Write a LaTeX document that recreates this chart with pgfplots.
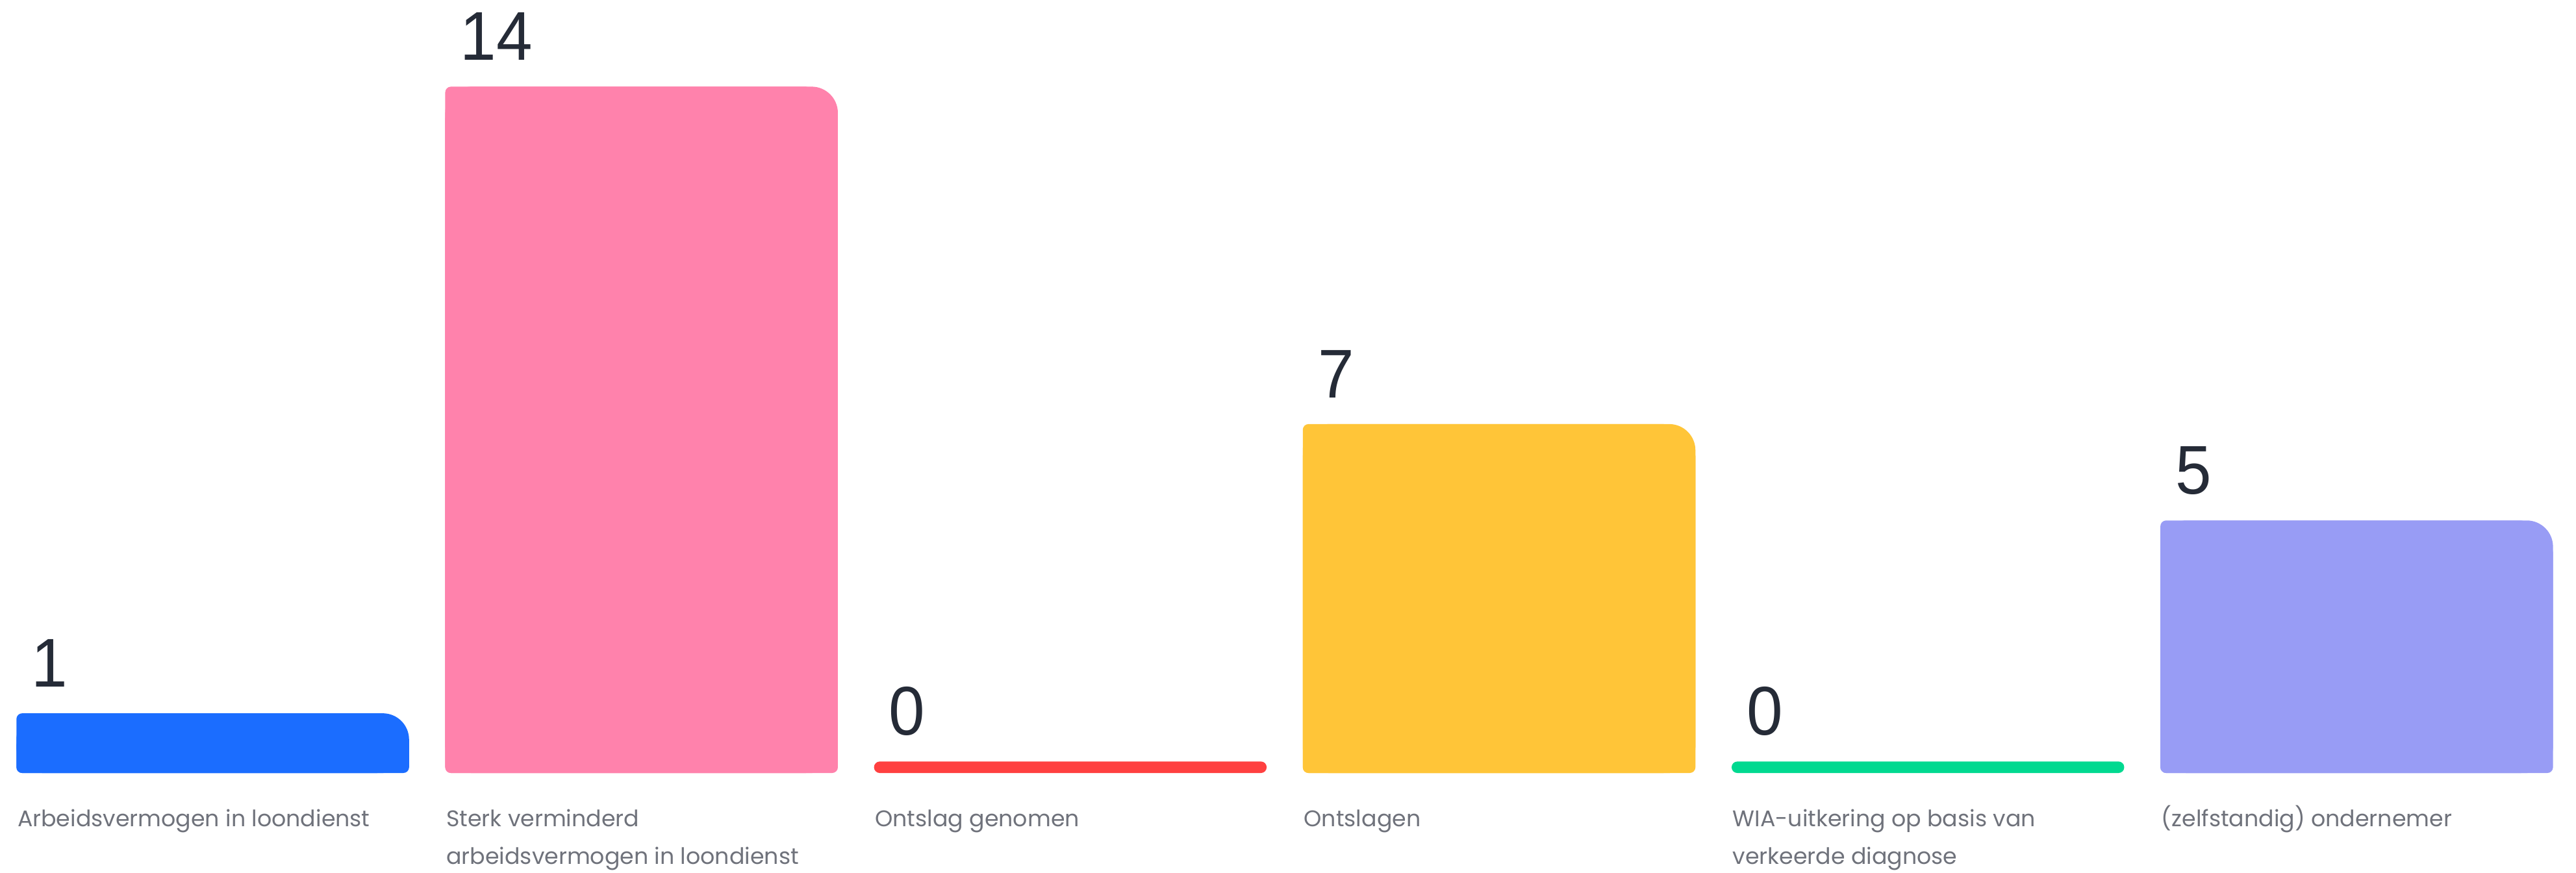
\documentclass[border=0pt]{standalone}
\usepackage{pgfplots}
\pgfplotsset{compat=1.18}
\usepackage{fontspec}
\newfontfamily\numfont[FakeStretch=0.94]{Liberation Sans}
\newfontfamily\labfont{Poppins}
\definecolor{cblue}{HTML}{1B6DFF}
\definecolor{cpink}{HTML}{FF82AC}
\definecolor{cred}{HTML}{FF4040}
\definecolor{cyellow}{HTML}{FFC538}
\definecolor{cgreen}{HTML}{00D990}
\definecolor{cviolet}{HTML}{989CF5}
\definecolor{numcol}{HTML}{252B37}
\definecolor{labcol}{HTML}{6F727B}
\pgfplotsset{
  barbase/.style={ybar, bar width=239pt, bar shift=0pt, draw=none, fill=#1},
  shapeA/.style={barbase=#1, rounded corners=16pt, y filter/.expression={y+0.2386}},
  shapeB/.style={barbase=#1, rounded corners=3.5pt, y filter/.expression={y-0.3067}},
  shapeC/.style={barbase=#1, bar width=223pt, bar shift=-8pt, rounded corners=3.5pt, y filter/.expression={y+0.2386}},
  shapeZ/.style={barbase=#1, rounded corners=3.5pt, y filter/.expression={y+0.2386}},
  numlab/.style={point meta=explicit symbolic, nodes near coords,
    every node near coord/.append style={anchor=base west, inner sep=0pt,
      xshift=-110.5pt, yshift=16pt, font=\numfont\fontsize{42}{48}\selectfont, text=numcol}},
}
\begin{document}
\begin{tikzpicture}
\begin{axis}[
  scale only axis, width=1568pt, height=531pt,
  xmin=-0.49617, xmax=5.51149, ymin=-2.062, ymax=16.036,
  axis line style={draw=none}, ytick=\empty, xtick={0,1,2,3,4,5},
  major tick length=0pt,
  xticklabels={{\strut Arbeidsvermogen in loondienst},
    {\strut Sterk verminderd\\arbeidsvermogen in loondienst},
    {\strut Ontslag genomen},
    {\strut Ontslagen},
    {\strut WIA-uitkering op basis van\\verkeerde diagnose},
    {\strut (zelfstandig) ondernemer}},
  xticklabel style={anchor=north west, inner sep=0pt, align=left,
    font=\labfont\fontsize{13.75}{23}\selectfont, text=labcol,
    xshift=-119pt, yshift=44.1pt},
  clip=false,
]
% Arbeidsvermogen in loondienst = 1
\addplot[shapeA=cblue, numlab] coordinates {(0,1) [1]};
\addplot[shapeB=cblue] coordinates {(0,1)};
\addplot[shapeC=cblue] coordinates {(0,1)};
% Sterk verminderd arbeidsvermogen in loondienst = 14
\addplot[shapeA=cpink, numlab] coordinates {(1,14) [14]};
\addplot[shapeB=cpink] coordinates {(1,14)};
\addplot[shapeC=cpink] coordinates {(1,14)};
% Ontslag genomen = 0
\addplot[shapeZ=cred, numlab] coordinates {(2,0) [0]};
% Ontslagen = 7
\addplot[shapeA=cyellow, numlab] coordinates {(3,7) [7]};
\addplot[shapeB=cyellow] coordinates {(3,7)};
\addplot[shapeC=cyellow] coordinates {(3,7)};
% WIA-uitkering op basis van verkeerde diagnose = 0
\addplot[shapeZ=cgreen, numlab] coordinates {(4,0) [0]};
% (zelfstandig) ondernemer = 5
\addplot[shapeA=cviolet, numlab] coordinates {(5,5) [5]};
\addplot[shapeB=cviolet] coordinates {(5,5)};
\addplot[shapeC=cviolet] coordinates {(5,5)};
\end{axis}
\pgfresetboundingbox
\path[use as bounding box] (current axis.south west) rectangle (current axis.north east);
\end{tikzpicture}
\end{document}
